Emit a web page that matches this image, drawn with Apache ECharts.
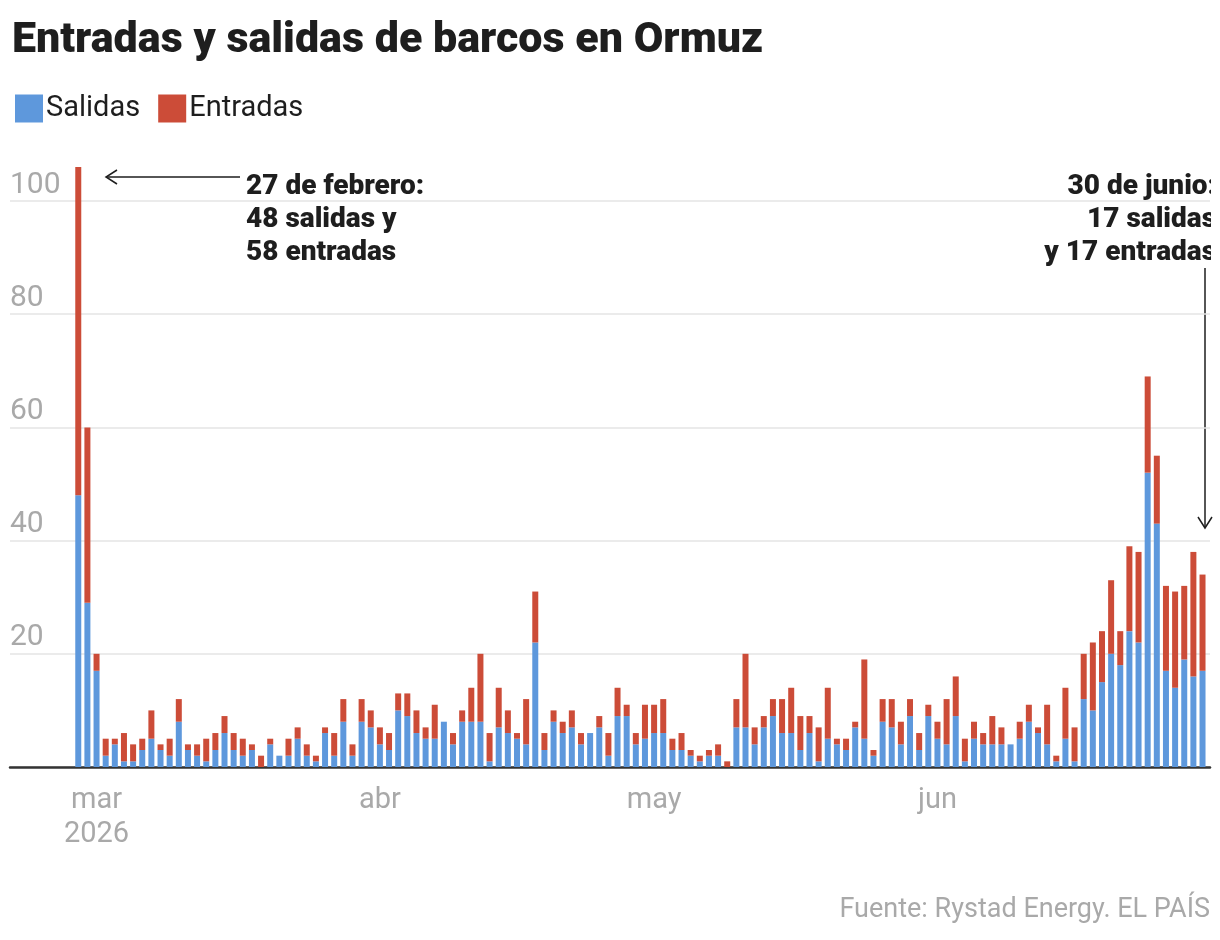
<!DOCTYPE html>
<html>
<head>
<meta charset="utf-8">
<script src="https://cdn.jsdelivr.net/npm/echarts@6/dist/echarts.min.js"></script>
<style>
  html, body { margin: 0; padding: 0; background: #fff; }
  #chart { width: 1220px; height: 940px; }
</style>
</head>
<body>
<div id="chart"></div>
<script>
// first day of the series, one bar per day
var startDay = [2026, 1, 27]; // 27 feb 2026
var monthNames = ['ene', 'feb', 'mar', 'abr', 'may', 'jun', 'jul', 'ago', 'sep', 'oct', 'nov', 'dic'];
var yTicks = [0, 20, 40, 60, 80, 100];

// salidas (blue) per day, 27 feb -> 30 jun
var salidasFeb = [48, 29];
var salidasMar = [17, 2, 4, 1, 1, 3, 5, 3, 2, 8, 3, 2, 1, 3, 6, 3, 2, 3, 0, 4, 2, 2, 5, 2, 1, 6, 2, 8, 2, 8, 7];
var salidasAbr = [4, 3, 10, 9, 6, 5, 5, 8, 4, 8, 8, 8, 1, 7, 6, 5, 4, 22, 3, 8, 6, 7, 4, 6, 7, 2, 9, 9, 4, 5];
var salidasMay = [6, 6, 3, 3, 2, 1, 2, 2, 0, 7, 7, 4, 7, 9, 6, 6, 3, 6, 1, 5, 4, 3, 7, 5, 2, 8, 7, 4, 9, 3, 9];
var salidasJun = [5, 4, 9, 1, 5, 4, 4, 4, 4, 5, 8, 6, 4, 1, 5, 1, 12, 10, 15, 20, 18, 24, 22, 52, 43, 17, 14, 19, 16, 17];

// entradas (red) per day
var entradasFeb = [58, 31];
var entradasMar = [3, 3, 1, 5, 3, 2, 5, 1, 3, 4, 1, 2, 4, 3, 3, 3, 3, 1, 2, 1, 0, 3, 2, 2, 1, 1, 4, 4, 2, 4, 3];
var entradasAbr = [3, 3, 3, 4, 4, 2, 6, 0, 2, 2, 6, 12, 5, 7, 4, 1, 8, 9, 3, 2, 2, 3, 2, 0, 2, 4, 5, 2, 2, 6];
var entradasMay = [5, 6, 2, 3, 1, 1, 1, 2, 1, 5, 13, 3, 2, 3, 6, 8, 6, 3, 6, 9, 1, 2, 1, 14, 1, 4, 5, 4, 3, 3, 2];
var entradasJun = [3, 8, 7, 4, 3, 2, 5, 3, 0, 3, 3, 1, 7, 1, 9, 6, 8, 12, 9, 13, 6, 15, 16, 17, 12, 15, 17, 13, 22, 17];

var salidas = [].concat(salidasFeb, salidasMar, salidasAbr, salidasMay, salidasJun);
var entradas = [].concat(entradasFeb, entradasMar, entradasAbr, entradasMay, entradasJun);

var DAY = 86400000;
var first = new Date(startDay[0], startDay[1], startDay[2]).getTime();
var days = salidas.map(function (v, i) {
  var d = new Date(startDay[0], startDay[1], startDay[2] + i);
  return d.getTime();
});

var dom = document.getElementById('chart');
var myChart = echarts.init(dom);

var grey = '#a9a9a9';
var dark = '#1e1e1e';

var option = {
  animation: false,
  backgroundColor: '#fff',
  title: {
    text: 'Entradas y salidas de barcos en Ormuz',
    left: 7,
    top: 15,
    textStyle: { fontFamily: 'Roboto', fontWeight: 900, fontSize: 43, color: dark }
  },
  legend: {
    left: 10,
    top: 89,
    itemWidth: 28,
    itemHeight: 28,
    itemGap: 18,
    icon: 'rect',
    textStyle: { fontFamily: 'Roboto', fontSize: 29, color: dark, padding: [0, 0, 0, -2] },
    data: ['Salidas', 'Entradas']
  },
  grid: { left: 10, right: 10, top: 201, bottom: 173 },
  xAxis: {
    type: 'time',
    min: first - 7.14 * DAY,
    max: days[days.length - 1] + 0.49 * DAY,
    minInterval: 28 * DAY,
    axisLine: { lineStyle: { color: '#333', width: 2.5 } },
    axisTick: { show: false },
    splitLine: { show: false },
    axisLabel: {
      showMinLabel: false,
      showMaxLabel: false,
      margin: 17,
      fontFamily: 'Roboto',
      fontSize: 29,
      lineHeight: 34,
      color: grey,
      formatter: function (val) {
        var d = new Date(val);
        if (d.getDate() !== 1) return '';
        var m = monthNames[d.getMonth()];
        if (d.getMonth() === 2) return m + '\n' + d.getFullYear();
        return m;
      }
    }
  },
  yAxis: {
    type: 'value',
    min: yTicks[0],
    max: yTicks[yTicks.length - 1],
    interval: 20,
    axisLine: { show: false },
    axisTick: { show: false },
    splitLine: { lineStyle: { color: '#e4e4e4', width: 1.5 } },
    axisLabel: {
      inside: true,
      showMinLabel: false,
      margin: 0,
      align: 'left',
      verticalAlign: 'bottom',
      padding: [0, 0, 1, 0],
      fontFamily: 'Roboto',
      fontSize: 30,
      color: grey
    }
  },
  series: [
    {
      name: 'Salidas',
      type: 'bar',
      stack: 'total',
      barWidth: 6,
      clip: false,
      itemStyle: { color: '#5e98dc' },
      data: days.map(function (t, i) { return [t, salidas[i]]; })
    },
    {
      name: 'Entradas',
      type: 'bar',
      stack: 'total',
      barWidth: 6,
      clip: false,
      itemStyle: { color: '#cc4c38' },
      data: days.map(function (t, i) { return [t, entradas[i]]; })
    }
  ],
  graphic: [
    // left note
    {
      type: 'line',
      shape: { x1: 240, y1: 177, x2: 106, y2: 177 },
      style: { stroke: dark, lineWidth: 1.5 }
    },
    {
      type: 'polyline',
      shape: { points: [[117, 170], [106, 177], [117, 184]] },
      style: { stroke: dark, lineWidth: 1.5, fill: null }
    },
    {
      type: 'text',
      x: 246,
      y: 170,
      style: {
        text: '27 de febrero:\n48 salidas y\n58 entradas',
        fontFamily: 'Roboto',
        fontWeight: 900,
        fontSize: 28,
        lineHeight: 33,
        fill: dark,
        verticalAlign: 'top'
      }
    },
    // right note
    {
      type: 'text',
      x: 1216,
      y: 170,
      z: 10,
      style: {
        text: '30 de junio:\n17 salidas\ny 17 entradas',
        fontFamily: 'Roboto',
        fontWeight: 900,
        fontSize: 28,
        lineHeight: 33,
        fill: dark,
        align: 'right',
        verticalAlign: 'top'
      }
    },
    {
      type: 'rect',
      z: 20,
      shape: { x: 1211, y: 160, width: 12, height: 130 },
      style: { fill: '#fff' }
    },
    {
      type: 'line',
      shape: { x1: 1205, y1: 268, x2: 1205, y2: 528 },
      style: { stroke: dark, lineWidth: 1.5 }
    },
    {
      type: 'polyline',
      shape: { points: [[1198, 517], [1205, 528], [1212, 517]] },
      style: { stroke: dark, lineWidth: 1.5, fill: null }
    },
    // source
    {
      type: 'text',
      x: 1210,
      y: 910,
      style: {
        text: 'Fuente: Rystad Energy. EL PAÍS',
        fontFamily: 'Roboto',
        fontSize: 27,
        fill: grey,
        align: 'right',
        verticalAlign: 'middle'
      }
    }
  ]
};

if (option && typeof option === 'object') {
  myChart.setOption(option);
}
</script>
</body>
</html>
